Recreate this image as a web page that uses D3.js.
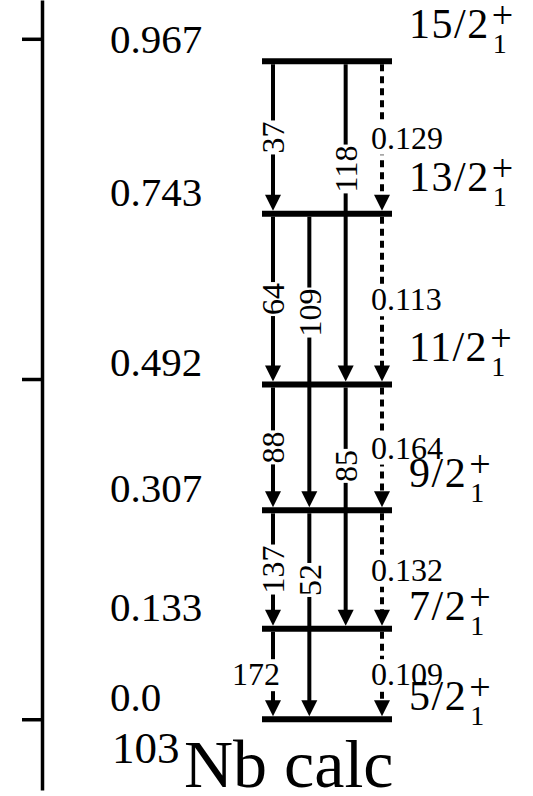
<!DOCTYPE html>
<html>
<head>
<meta charset="utf-8">
<script src="https://cdn.jsdelivr.net/npm/d3@7"></script>
<style>
  html, body { margin: 0; padding: 0; background: #fff; }
  svg { display: block; }
</style>
</head>
<body>
<div id="chart"></div>
<script>

// level scheme of 103Nb (calc), energies in MeV
var levelEnergies = [0.0, 0.133, 0.307, 0.492, 0.743, 0.967];
var levelEnergyLabels = ["0.0", "0.133", "0.307", "0.492", "0.743", "0.967"];
var levelSpins = ["5/2", "7/2", "9/2", "11/2", "13/2", "15/2"];

// transitions: index of initial / final level, column, value shown
var transFrom   = [5, 4, 3, 2, 1, 4, 2, 5, 3, 5, 4, 3, 2, 1];
var transTo     = [4, 3, 2, 1, 0, 2, 0, 3, 1, 4, 3, 2, 1, 0];
var transColumn = [0, 0, 0, 0, 0, 1, 1, 2, 2, 3, 3, 3, 3, 3];
var transLabels = ["37", "64", "88", "137", "172", "109", "52", "118", "85",
                   "0.129", "0.113", "0.164", "0.132", "0.109"];
var transDashed = [false, false, false, false, false, false, false, false, false,
                   true, true, true, true, true];

var axisTicks = [0, 0.5, 1.0];
var nucleus = "103";
var title = "Nb calc";

var width = 533, height = 796;
var serif = "'Liberation Serif', 'DejaVu Serif', serif";

var svg = d3.select("#chart").append("svg")
    .attr("width", width)
    .attr("height", height)
    .attr("font-family", serif)
    .style("font-family", serif);

var y = d3.scaleLinear()
    .domain([-0.104, 1.057])
    .range([790, 0]);

var col = d3.scalePoint()
    .domain([0, 1, 2, 3])
    .range([273, 382]);

var levelX0 = 262, levelX1 = 392;
var levelW = 6, lineW = 4;
var arrowW = 16, arrowH = 16;

// energy axis on the left
var axis = d3.axisLeft(y)
    .tickValues(axisTicks)
    .tickSize(20)
    .tickSizeOuter(0)
    .tickFormat("");

var gAxis = svg.append("g")
    .attr("transform", "translate(42,0)")
    .call(axis);
gAxis.selectAll("path, line")
    .attr("stroke", "#000")
    .attr("stroke-width", 3.5);

var transitions = transFrom.map(function(f, i){
    return {
        from: f,
        to: transTo[i],
        x: col(transColumn[i]),
        label: transLabels[i],
        dashed: transDashed[i]
    };
});

// transition lines
var gTrans = svg.append("g");
transitions.forEach(function(t){
    var yTop = y(levelEnergies[t.from]) + levelW / 2;
    var tip = y(levelEnergies[t.to]) - levelW / 2;
    gTrans.append("line")
        .attr("x1", t.x).attr("x2", t.x)
        .attr("y1", yTop).attr("y2", tip - arrowH + 2)
        .attr("stroke", "#000")
        .attr("stroke-width", lineW)
        .attr("stroke-dasharray", t.dashed ? "7,5" : null);

    var p = d3.path();
    p.moveTo(t.x - arrowW / 2, tip - arrowH);
    p.lineTo(t.x + arrowW / 2, tip - arrowH);
    p.lineTo(t.x, tip);
    p.closePath();
    gTrans.append("path")
        .attr("d", p.toString())
        .attr("fill", "#000");
});

// transition labels, each breaking its line with a white box
var gLab = svg.append("g");
transitions.forEach(function(t){
    var span = t.from - t.to;
    var y0 = y(levelEnergies[t.from]), y1 = y(levelEnergies[t.to]);
    var cy = span > 1 ? y0 + (y1 - y0) / 3 : (y0 + y1) / 2;
    var vertical = !t.dashed && (y1 - y0) > 100;

    var g = gLab.append("g");
    var txt;
    if(vertical){
        g.attr("transform", "translate(" + t.x + "," + cy + ") rotate(-90)");
        txt = g.append("text")
            .attr("text-anchor", "middle")
            .attr("dy", "0.35em")
            .attr("font-size", 32)
            .text(t.label);
    }else if(t.dashed){
        g.attr("transform", "translate(" + (t.x - 11) + "," + cy + ")");
        txt = g.append("text")
            .attr("dy", "0.35em")
            .attr("font-size", 32)
            .text(t.label);
    }else{
        g.attr("transform", "translate(" + (t.x + 7) + "," + cy + ")");
        txt = g.append("text")
            .attr("text-anchor", "end")
            .attr("dy", "0.35em")
            .attr("font-size", 32)
            .text(t.label);
    }
    var bb = txt.node().getBBox();
    g.insert("rect", "text")
        .attr("x", bb.x - 1)
        .attr("y", bb.y + 3)
        .attr("width", bb.width + 2)
        .attr("height", bb.height - 4)
        .attr("fill", "#fff");
});

// levels
svg.append("g").selectAll("line")
    .data(levelEnergies)
    .join("line")
    .attr("x1", levelX0)
    .attr("x2", levelX1)
    .attr("y1", function(d){ return y(d); })
    .attr("y2", function(d){ return y(d); })
    .attr("stroke", "#000")
    .attr("stroke-width", levelW);

// energy labels
svg.append("g").selectAll("text")
    .data(levelEnergies)
    .join("text")
    .attr("x", 110)
    .attr("y", function(d){ return y(d) - 8; })
    .attr("font-size", 41)
    .text(function(d, i){ return levelEnergyLabels[i]; });

// spin labels J/2 with sub 1 and sup +
var gSpin = svg.append("g");
levelSpins.forEach(function(s, i){
    var base = y(levelEnergies[i]) - (i >= 2 ? 23 : 9);
    var main = gSpin.append("text")
        .attr("x", 409)
        .attr("y", base)
        .attr("font-size", 42)
        .attr("letter-spacing", 1.5)
        .text(s);
    var end = 409 + main.node().getComputedTextLength();
    gSpin.append("text")
        .attr("x", end + 3)
        .attr("y", base + 15)
        .attr("font-size", 28)
        .text("1");
    gSpin.append("text")
        .attr("x", end + 2)
        .attr("y", base - 10)
        .attr("font-size", 38)
        .text("+");
});

// nucleus name
svg.append("text")
    .attr("x", 112)
    .attr("y", 763)
    .attr("font-size", 45)
    .text(nucleus);
svg.append("text")
    .attr("x", 184)
    .attr("y", 787)
    .attr("font-size", 68)
    .text(title);

</script>
</body>
</html>
